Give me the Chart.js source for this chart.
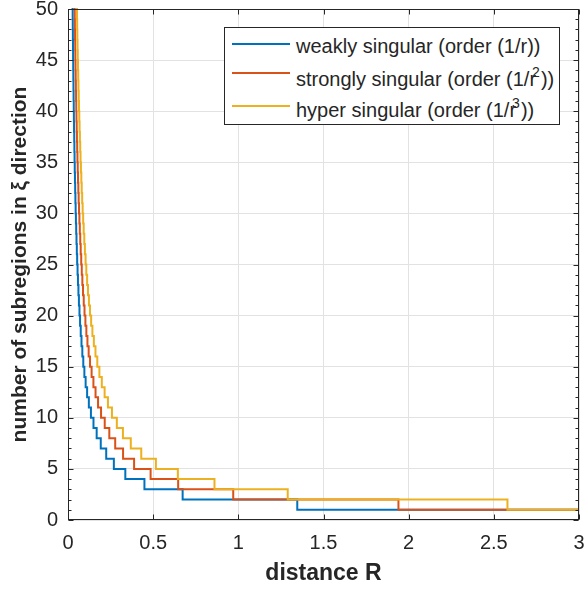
<!DOCTYPE html>
<html>
<head>
<meta charset="utf-8">
<script src="https://cdn.jsdelivr.net/npm/chart.js@4.4.1/dist/chart.umd.min.js"></script>
<style>
  html, body { margin: 0; padding: 0; background: #fff; }
  #wrap { position: relative; width: 584px; height: 590px; }
  #legend {
    position: absolute; left: 224px; top: 27px; width: 336px; height: 98px;
    box-sizing: border-box; border: 1px solid #262626; background: #fff;
  }
  .swatch { position: absolute; left: 232px; width: 58px; height: 2px; }
  .lbl {
    position: absolute; left: 296px; white-space: nowrap;
    font-family: "Liberation Sans", Arial, sans-serif; font-size: 20px;
    line-height: 20px; color: #262626;
  }
  .lbl .sup { position: relative; top: -9px; font-size: 14px; line-height: 0; margin-left: -4px; margin-right: 1px; }
</style>
</head>
<body>
<div id="wrap">
  <canvas id="subregionChart" width="584" height="590"></canvas>
  <div id="legend"></div>
  <div class="swatch" style="top:43px;background:#0072BD"></div>
  <div class="lbl" style="top:36px">weakly singular (order (1/r))</div>
  <div class="swatch" style="top:72px;background:#D95319"></div>
  <div class="lbl" style="top:69px">strongly singular (order (1/r<span class="sup">2</span>))</div>
  <div class="swatch" style="top:105px;background:#EDB120"></div>
  <div class="lbl" style="top:100px">hyper singular (order (1/r<span class="sup">3</span>))</div>
</div>
<script>
// number of subregions (step levels), level n holds from x = breakpoint[n-1]
const levels = [1,2,3,4,5,6,7,8,9,10,11,12,13,14,15,16,17,18,19,20,21,22,23,24,25,26,
  27,28,29,30,31,32,33,34,35,36,37,38,39,40,41,42,43,44,45,46,47,48,49,50,51,52];

// distance R where each level starts
const weakR = [1.346,0.673,0.4487,0.3365,0.2692,0.2243,0.1923,0.1683,0.1496,0.1346,
  0.1224,0.1122,0.1035,0.0961,0.0897,0.0841,0.0792,0.0748,0.0708,0.0673,0.0641,0.0612,
  0.0585,0.0561,0.0538,0.0518,0.0499,0.0481,0.0464,0.0449,0.0434,0.0421,0.0408,0.0396,
  0.0385,0.0374,0.0364,0.0354,0.0345,0.0337,0.0328,0.0320,0.0313,0.0306,0.0299,0.0293,
  0.0286,0.0280,0.0275,0.0269,0.0264,0.0259];
const strongR = [1.94,0.97,0.6467,0.485,0.388,0.3233,0.2771,0.2425,0.2156,0.194,
  0.1764,0.1617,0.1492,0.1386,0.1293,0.1213,0.1141,0.1078,0.1021,0.097,0.0924,0.0882,
  0.0843,0.0808,0.0776,0.0746,0.0719,0.0693,0.0669,0.0647,0.0626,0.0606,0.0588,0.0571,
  0.0554,0.0539,0.0524,0.0511,0.0497,0.0485,0.0473,0.0462,0.0451,0.0441,0.0431,0.0422,
  0.0413,0.0404,0.0396,0.0388,0.0380,0.0373];
const hyperR = [2.58,1.29,0.86,0.645,0.516,0.43,0.3686,0.3225,0.2867,0.258,
  0.2345,0.215,0.1985,0.1843,0.172,0.1613,0.1518,0.1433,0.1358,0.129,0.1229,0.1173,
  0.1122,0.1075,0.1032,0.0992,0.0956,0.0921,0.089,0.086,0.0832,0.0806,0.0782,0.0759,
  0.0737,0.0717,0.0697,0.0679,0.0662,0.0645,0.0629,0.0614,0.06,0.0586,0.0573,0.0561,
  0.0549,0.0538,0.0527,0.0516,0.0506,0.0496];

const xTicks = [0, 0.5, 1, 1.5, 2, 2.5, 3];
const yTicks = [0, 5, 10, 15, 20, 25, 30, 35, 40, 45, 50];

const FONT = '"Liberation Sans", Arial, sans-serif';
const AXIS_COLOR = '#262626';

function stepPoints(starts) {
  const pts = [];
  for (let i = starts.length - 1; i >= 0; i--) {
    pts.push({ x: starts[i], y: levels[i] });
  }
  pts.push({ x: xTicks[xTicks.length - 1], y: levels[0] });
  return pts;
}

// MATLAB-like box with inward ticks (major + minor on y)
const axesBox = {
  id: 'axesBox',
  afterDatasetsDraw(chart) {
    const { ctx, chartArea: a, scales: { x, y } } = chart;
    const L = Math.round(a.left) + 0.5, R = Math.round(a.right) - 0.5;
    const T = Math.round(a.top) + 0.5, B = Math.round(a.bottom) - 0.5;
    ctx.save();
    ctx.strokeStyle = AXIS_COLOR;
    ctx.lineWidth = 1;
    ctx.beginPath();
    xTicks.forEach(v => {
      const px = Math.round(x.getPixelForValue(v)) + 0.5;
      ctx.moveTo(px, B); ctx.lineTo(px, B - 5);
      ctx.moveTo(px, T); ctx.lineTo(px, T + 5);
    });
    for (let v = 0; v <= 50; v++) {
      const py = Math.round(y.getPixelForValue(v)) + 0.5;
      const len = v % 5 === 0 ? 5 : 3;
      ctx.moveTo(L, py); ctx.lineTo(L + len, py);
      ctx.moveTo(R, py); ctx.lineTo(R - len, py);
    }
    ctx.stroke();
    ctx.strokeRect(L, T, R - L, B - T);
    ctx.restore();
  }
};

const ctx = document.getElementById('subregionChart');
new Chart(ctx, {
  type: 'line',
  data: {
    datasets: [
      { label: 'weakly singular (order (1/r))', data: stepPoints(weakR),
        borderColor: '#0072BD', order: 3 },
      { label: 'strongly singular (order (1/r^2))', data: stepPoints(strongR),
        borderColor: '#D95319', order: 2 },
      { label: 'hyper singular (order (1/r^3))', data: stepPoints(hyperR),
        borderColor: '#EDB120', order: 1 }
    ].map(d => Object.assign(d, {
      stepped: 'before', borderWidth: 2, pointRadius: 0, fill: false, clip: 1
    }))
  },
  options: {
    responsive: false,
    animation: false,
    events: [],
    layout: { padding: { top: 9, right: 5, left: 0, bottom: 0 } },
    plugins: { legend: { display: false }, tooltip: { enabled: false } },
    scales: {
      x: {
        type: 'linear', min: 0, max: 3,
        afterBuildTicks: s => { s.ticks = xTicks.map(v => ({ value: v })); },
        afterFit: s => { s.height = 70; s.paddingLeft = 0; s.paddingRight = 0; },
        grid: { color: '#e2e2e2', lineWidth: 1, drawTicks: false },
        border: { display: false },
        ticks: {
          padding: 11, color: AXIS_COLOR, maxRotation: 0,
          font: { family: FONT, size: 20 },
          callback: v => String(v)
        },
        title: {
          display: true, text: 'distance R', color: AXIS_COLOR,
          font: { family: FONT, size: 23, weight: 'bold', lineHeight: 1.2 },
          padding: { top: 0, bottom: 3 }
        }
      },
      y: {
        type: 'linear', min: 0, max: 50,
        afterBuildTicks: s => { s.ticks = yTicks.map(v => ({ value: v })); },
        afterFit: s => { s.width = 68; s.paddingTop = 0; s.paddingBottom = 0; },
        grid: { color: '#e2e2e2', lineWidth: 1, drawTicks: false },
        border: { display: false },
        ticks: {
          padding: 10, color: AXIS_COLOR,
          font: { family: FONT, size: 20 }
        },
        title: {
          display: true, text: 'number of subregions in ξ direction', color: AXIS_COLOR,
          font: { family: FONT, size: 21, weight: 'bold', lineHeight: 1.2 },
          padding: { top: 8, bottom: 0 }
        }
      }
    }
  },
  plugins: [axesBox]
});
</script>
</body>
</html>
